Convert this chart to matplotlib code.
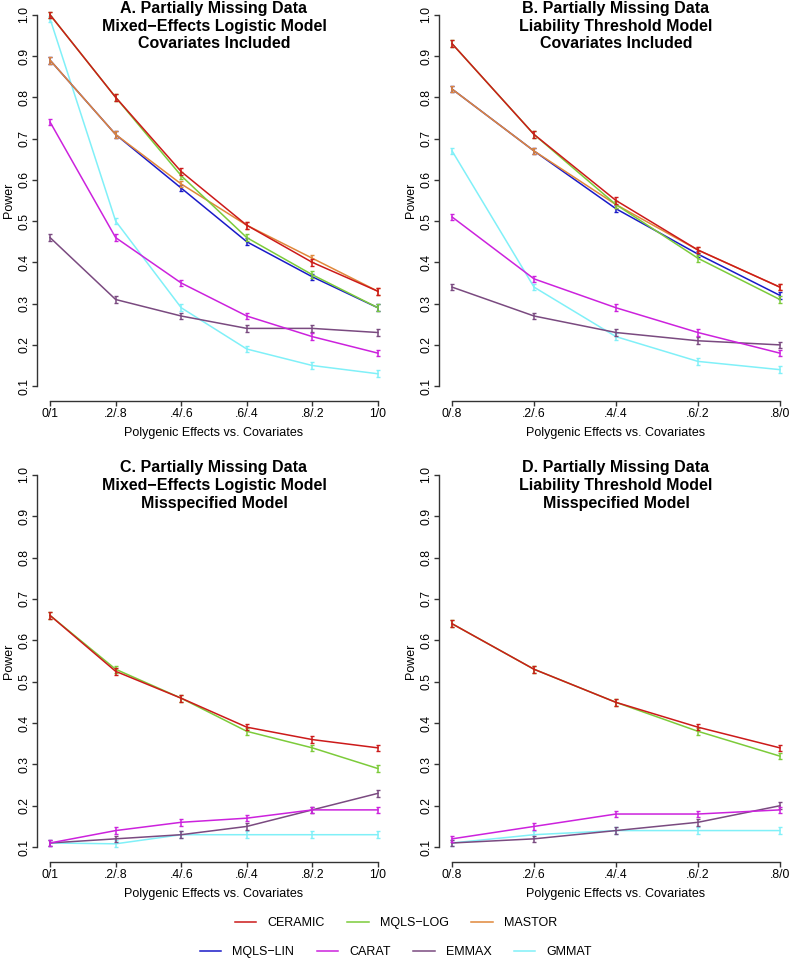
import numpy as np
import matplotlib
matplotlib.use("Agg")
import matplotlib.pyplot as plt

plt.rcParams['font.family'] = ['Liberation Sans', 'DejaVu Sans']

# x categories (polygenic effects vs. covariates)
x_full = ["0/1", ".2/.8", ".4/.6", ".6/.4", ".8/.2", "1/0"]
x_part = ["0/.8", ".2/.6", ".4/.4", ".6/.2", ".8/0"]

methods = ["CERAMIC", "MQLS\u2212LOG", "MASTOR", "MQLS\u2212LIN", "CARAT", "EMMAX", "GMMAT"]
colors = ["#CC1A1A", "#7CCB3A", "#E0883A", "#1A1AC8", "#CC22DD", "#7A4A80", "#80F0F8"]

# panel A: mixed-effects logistic, covariates included
a_ceramic = [1.00, 0.80, 0.62, 0.49, 0.40, 0.33]
a_mqlslog = [1.00, 0.80, 0.61, 0.46, 0.37, 0.29]
a_mastor = [0.89, 0.71, 0.59, 0.49, 0.41, 0.33]
a_mqlslin = [0.89, 0.71, 0.58, 0.45, 0.365, 0.29]
a_carat = [0.74, 0.46, 0.35, 0.27, 0.22, 0.18]
a_emmax = [0.46, 0.31, 0.27, 0.24, 0.24, 0.23]
a_gmmat = [0.99, 0.50, 0.29, 0.19, 0.15, 0.13]

# panel B: liability threshold, covariates included
b_ceramic = [0.93, 0.71, 0.55, 0.43, 0.34]
b_mqlslog = [0.93, 0.71, 0.54, 0.41, 0.31]
b_mastor = [0.82, 0.67, 0.54, 0.43, 0.34]
b_mqlslin = [0.82, 0.67, 0.53, 0.42, 0.32]
b_carat = [0.51, 0.36, 0.29, 0.23, 0.18]
b_emmax = [0.34, 0.27, 0.23, 0.21, 0.20]
b_gmmat = [0.67, 0.34, 0.22, 0.16, 0.14]

# panel C: mixed-effects logistic, misspecified
c_ceramic = [0.66, 0.525, 0.46, 0.39, 0.36, 0.34]
c_mqlslog = [0.66, 0.53, 0.46, 0.38, 0.34, 0.29]
c_carat = [0.11, 0.14, 0.16, 0.17, 0.19, 0.19]
c_emmax = [0.11, 0.12, 0.13, 0.15, 0.19, 0.23]
c_gmmat = [0.11, 0.108, 0.13, 0.13, 0.13, 0.13]

# panel D: liability threshold, misspecified
d_ceramic = [0.64, 0.53, 0.45, 0.39, 0.34]
d_mqlslog = [0.64, 0.53, 0.45, 0.38, 0.32]
d_carat = [0.12, 0.15, 0.18, 0.18, 0.19]
d_emmax = [0.11, 0.12, 0.14, 0.16, 0.20]
d_gmmat = [0.11, 0.13, 0.14, 0.14, 0.14]

err = 0.008

panels = [
    ("A. Partially Missing Data", "Mixed\u2212Effects Logistic Model", "Covariates Included", x_full,
     [a_ceramic, a_mqlslog, a_mastor, a_mqlslin, a_carat, a_emmax, a_gmmat]),
    ("B. Partially Missing Data", "Liability Threshold Model", "Covariates Included", x_part,
     [b_ceramic, b_mqlslog, b_mastor, b_mqlslin, b_carat, b_emmax, b_gmmat]),
    ("C. Partially Missing Data", "Mixed\u2212Effects Logistic Model", "Misspecified Model", x_full,
     [c_ceramic, c_mqlslog, None, None, c_carat, c_emmax, c_gmmat]),
    ("D. Partially Missing Data", "Liability Threshold Model", "Misspecified Model", x_part,
     [d_ceramic, d_mqlslog, None, None, d_carat, d_emmax, d_gmmat]),
]

W, H = 792, 960
fig = plt.figure(figsize=(W / 100, H / 100), dpi=100)

# axes boxes in pixels: left, top, width, height
boxes = [(37, 0, 354, 401), (439, 0, 354, 401), (37, 460, 354, 402), (439, 460, 354, 402)]

handles = {}
for (t1, t2, t3, xl, series), (l, t, w, h) in zip(panels, boxes):
    ax = fig.add_axes([l / W, (H - t - h) / H, w / W, h / H])
    n = len(xl)
    x = np.arange(n)
    # draw in reverse so CERAMIC ends up on top
    for i in range(len(methods) - 1, -1, -1):
        y = series[i]
        if y is None:
            continue
        ax.plot(x, y, color=colors[i], lw=1.1, zorder=3 + (7 - i))
        ax.errorbar(x, y, yerr=err, fmt='none', ecolor=colors[i], elinewidth=1.1,
                    capsize=1.6, capthick=1.0, zorder=3 + (7 - i))
    pad = 0.04 * (n - 1)
    ax.set_xlim(-pad, n - 1 + pad)
    ax.set_ylim(0.064, 1.036)
    for s in ['top', 'right']:
        ax.spines[s].set_visible(False)
    ax.spines['left'].set_bounds(0.1, 1.0)
    ax.spines['bottom'].set_bounds(0, n - 1)
    for s in ['left', 'bottom']:
        ax.spines[s].set_color('#333333')
        ax.spines[s].set_linewidth(1.0)
    ax.set_xticks(x)
    ax.set_xticklabels(xl, fontsize=8.7)
    yt = np.round(np.arange(0.1, 1.01, 0.1), 1)
    ax.set_yticks(yt)
    ax.set_yticklabels([f"{v:.1f}" for v in yt], fontsize=8.7, rotation=90, va='center')
    ax.tick_params(direction='out', length=3.5, width=1.0, color='#333333', pad=1.5)
    ax.set_ylabel("Power", fontsize=9, labelpad=2.5)
    ax.set_xlabel("Polygenic Effects vs. Covariates", fontsize=9, labelpad=5)
    ax.patch.set_visible(False)
    for k, (txt, dy) in enumerate([(t1, 8), (t2, 26), (t3, 44)]):
        ax.text(0.5, 1 - dy / h, txt, transform=ax.transAxes, ha='center', va='center',
                fontsize=11.5, fontweight='bold')

for i, m in enumerate(methods):
    handles[m] = plt.Line2D([], [], color=colors[i], lw=1.1)

leg_kw = dict(frameon=False, fontsize=9, handlelength=1.7, handletextpad=0.9,
              columnspacing=1.8, loc='center')
fig.legend([handles[m] for m in methods[:3]], methods[:3], ncol=3,
           bbox_to_anchor=(0.5, 1 - 923 / H), **leg_kw)
fig.legend([handles[m] for m in methods[3:]], methods[3:], ncol=4,
           bbox_to_anchor=(0.5, 1 - 952 / H), **leg_kw)

fig.savefig("out.png", dpi=100)
